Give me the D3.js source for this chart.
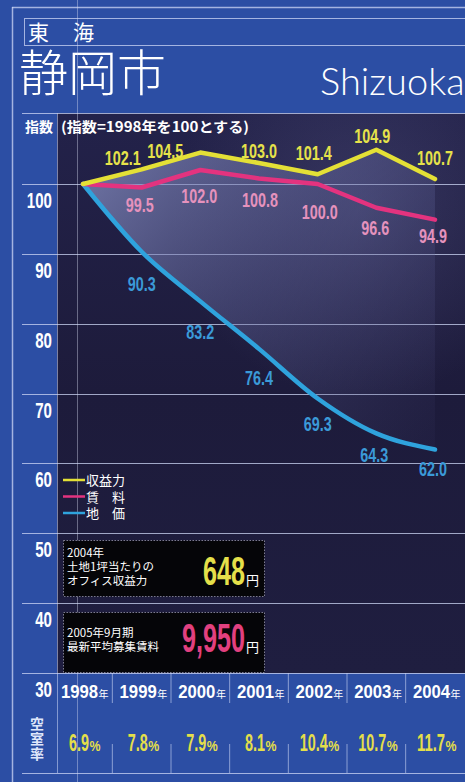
<!DOCTYPE html>
<html>
<head>
<meta charset="utf-8">
<script src="https://cdn.jsdelivr.net/npm/d3@7/dist/d3.min.js"></script>
<style>
  html, body { margin: 0; padding: 0; background: #2c4ea4; }
  svg { display: block; }
</style>
</head>
<body>
<svg id="chart" width="465" height="782"></svg>
<script>
// ---- data ----
const years = ["1998", "1999", "2000", "2001", "2002", "2003", "2004"];
const earning = [100, 102.1, 104.5, 103.0, 101.4, 104.9, 100.7]; // 収益力
const rent = [100, 99.5, 102.0, 100.8, 100.0, 96.6, 94.9];       // 賃料
const land = [100, 90.3, 83.2, 76.4, 69.3, 64.3, 62.0];          // 地価
const vacancy = [6.9, 7.8, 7.9, 8.1, 10.4, 10.7, 11.7];          // 空室率 (%)
const yTicks = [100, 90, 80, 70, 60, 50, 40, 30];
const legendNames = ["収益力", "賃　料", "地　価"];

// label placement (offset of each value label's centre from its point)
const earningOffsets = [null, [-19, -12], [-35, -2], [0, -13], [-4, -22], [-4, -14], [0, -22]];
const rentOffsets = [null, [-2, 17], [-1, 25], [1, 21], [2, 27], [-1, 20], [-2, 16]];
const landOffsets = [null, [0, 32], [0, 30], [0, 29], [0, 25], [-2, 21], [-2, 19]];

const W = 465, H = 782;
const BLUE_BG = "#2c4ea4";
const LINE_LIGHT = "rgba(205,215,245,0.75)";
const C_Y = "#e4e036", C_P = "#e3337f", C_B = "#2fa3dd";
const NARROW = "'Liberation Sans Narrow', 'Liberation Sans', 'DejaVu Sans Condensed', sans-serif";
const JP = "'Noto Sans CJK JP', 'Noto Sans', sans-serif";

const svg = d3.select("#chart");
const defs = svg.append("defs");

// scales
const x = d3.scalePoint().domain(years).range([83, 435]);
const y = d3.scaleLinear().domain([30, 100]).range([673, 184]);

// background
svg.append("rect").attr("width", W).attr("height", H).attr("fill", BLUE_BG);

// plot panel
const navyGrad = defs.append("linearGradient").attr("id", "navyGrad")
  .attr("x1", 0).attr("y1", 0).attr("x2", 0).attr("y2", 1);
navyGrad.append("stop").attr("offset", 0).attr("stop-color", "#23224a");
navyGrad.append("stop").attr("offset", 0.5).attr("stop-color", "#1d1b3b");
navyGrad.append("stop").attr("offset", 1).attr("stop-color", "#1f1e40");
svg.append("rect").attr("x", 57).attr("y", 113).attr("width", W - 57).attr("height", 673 - 113)
  .attr("fill", "url(#navyGrad)");

// soft glow in the upper part of the panel
const glow = defs.append("radialGradient").attr("id", "glow")
  .attr("gradientUnits", "userSpaceOnUse").attr("cx", 360).attr("cy", 210).attr("r", 190);
glow.append("stop").attr("offset", 0).attr("stop-color", "rgba(110,110,160,0.28)");
glow.append("stop").attr("offset", 1).attr("stop-color", "rgba(110,110,160,0)");
svg.append("rect").attr("x", 57).attr("y", 113).attr("width", W - 57).attr("height", 560)
  .attr("fill", "url(#glow)");

// frame lines
svg.append("line").attr("x1", 12.5).attr("x2", 12.5).attr("y1", 7).attr("y2", H)
  .attr("stroke", LINE_LIGHT).attr("stroke-width", 1.5);
svg.append("line").attr("x1", 12).attr("x2", W).attr("y1", 7.5).attr("y2", 7.5)
  .attr("stroke", LINE_LIGHT).attr("stroke-width", 1.5);

// header: region box, city name in Japanese and in Latin letters
svg.append("rect").attr("x", 24.5).attr("y", 18.5).attr("width", W).attr("height", 27)
  .attr("fill", "none").attr("stroke", LINE_LIGHT).attr("stroke-width", 1);
const head = svg.append("text").attr("font-family", JP).attr("fill", "#ffffff");
head.append("tspan").attr("x", 28).attr("y", 40).attr("font-size", 21).text("東");
head.append("tspan").attr("x", 73).attr("y", 40).attr("font-size", 21).text("海");
head.append("tspan").attr("x", 19).attr("y", 91).attr("font-size", 49).attr("font-weight", 300).text("静岡市");
svg.append("text").attr("x", 320).attr("y", 95).text("Shizuoka")
  .attr("font-family", "Lato, 'Open Sans', sans-serif").attr("font-weight", 300)
  .attr("font-size", 38).attr("fill", "#ffffff");

// top rule of the panel
svg.append("line").attr("x1", 22).attr("x2", W).attr("y1", 113.5).attr("y2", 113.5)
  .attr("stroke", LINE_LIGHT).attr("stroke-width", 1.2);

// faint vertical guide
svg.append("line").attr("x1", 77.5).attr("x2", 77.5).attr("y1", 0).attr("y2", H)
  .attr("stroke", "rgba(220,225,245,0.4)").attr("stroke-width", 1);

// left separator
svg.append("line").attr("x1", 57.5).attr("x2", 57.5).attr("y1", 113).attr("y2", 773)
  .attr("stroke", "rgba(205,215,245,0.55)").attr("stroke-width", 1);

// gridlines
svg.append("g").selectAll("line").data(yTicks).join("line")
  .attr("x1", 22).attr("x2", W)
  .attr("y1", d => Math.round(y(d)) + 0.5).attr("y2", d => Math.round(y(d)) + 0.5)
  .attr("stroke", LINE_LIGHT).attr("stroke-width", 1.2);

// condensed numerals: squeeze horizontally to a width of `dw` px per digit
function narrowText(g, tx, ty, str, size, dw, fill, anchor) {
  const t = g.append("text")
    .attr("text-anchor", anchor || "middle")
    .attr("font-family", NARROW).attr("font-weight", "bold")
    .attr("font-size", size).attr("fill", fill).text(str);
  const digits = (str.match(/[0-9%]/g) || []).length;
  const punct = str.length - digits;
  const target = digits * dw + punct * dw * 0.5;
  const natural = t.node().getComputedTextLength() || target;
  t.attr("transform", `translate(${tx},${ty}) scale(${target / natural},1)`);
  return target;
}

// y-axis labels
const axisG = svg.append("g");
yTicks.forEach(t => {
  narrowText(axisG, 52, y(t) + 24, String(t), 22, 8.4, "#ffffff", "end");
});
svg.append("text").attr("x", 25).attr("y", 132).text("指数")
  .attr("font-family", JP).attr("font-weight", "bold").attr("font-size", 14).attr("fill", "#ffffff");
svg.append("text").attr("x", 61).attr("y", 132).text("(指数=1998年を100とする)")
  .attr("font-family", JP).attr("font-weight", "bold").attr("font-size", 14)
  .attr("textLength", 188).attr("lengthAdjust", "spacingAndGlyphs").attr("fill", "#ffffff");

// shaded band between earning line and land line
const ptsE = years.map((yr, i) => [x(yr), y(earning[i])]);
const ptsR = years.map((yr, i) => [x(yr), y(rent[i])]);
const ptsL = years.map((yr, i) => [x(yr), y(land[i])]);
const straight = d3.line();
const smooth = d3.line().curve(d3.curveMonotoneX);

const bandGrad = defs.append("linearGradient").attr("id", "bandGrad")
  .attr("gradientUnits", "userSpaceOnUse")
  .attr("x1", 90).attr("y1", 170).attr("x2", 420).attr("y2", 460);
bandGrad.append("stop").attr("offset", 0).attr("stop-color", "rgba(140,148,200,0.7)");
bandGrad.append("stop").attr("offset", 0.45).attr("stop-color", "rgba(105,110,165,0.4)");
bandGrad.append("stop").attr("offset", 1).attr("stop-color", "rgba(70,70,120,0.08)");

const lowerRev = smooth(ptsL.slice().reverse()).replace(/^M/, "L");
svg.append("path").attr("d", straight(ptsE) + lowerRev + "Z").attr("fill", "url(#bandGrad)");

// series lines
svg.append("path").attr("d", smooth(ptsL)).attr("fill", "none")
  .attr("stroke", C_B).attr("stroke-width", 4.5).attr("stroke-linejoin", "round").attr("stroke-linecap", "round");
svg.append("path").attr("d", straight(ptsR)).attr("fill", "none")
  .attr("stroke", C_P).attr("stroke-width", 4.5).attr("stroke-linejoin", "round").attr("stroke-linecap", "round");
svg.append("path").attr("d", straight(ptsE)).attr("fill", "none")
  .attr("stroke", C_Y).attr("stroke-width", 4.5).attr("stroke-linejoin", "round").attr("stroke-linecap", "round");

// value labels
const labelG = svg.append("g");
function valueLabels(values, offsets, color) {
  values.forEach((v, i) => {
    const off = offsets[i];
    if (!off) return;
    const cx = x(years[i]) + off[0];
    const cy = y(v) + off[1];
    narrowText(labelG, cx, cy + 7.5, v.toFixed(1), 21, 8, color);
  });
}
valueLabels(earning, earningOffsets, "#e6e24a");
valueLabels(rent, rentOffsets, "#e592bd");
valueLabels(land, landOffsets, "#3b9ad8");

// legend
const legend = svg.append("g");
const legendText = legend.append("text")
  .attr("font-family", JP).attr("font-size", 13).attr("fill", "#ffffff");
[C_Y, C_P, C_B].forEach((c, i) => {
  const ly = 480 + i * 16.5;
  legend.append("line").attr("x1", 63).attr("x2", 85).attr("y1", ly).attr("y2", ly)
    .attr("stroke", c).attr("stroke-width", 2.5);
  legendText.append("tspan").attr("x", 86).attr("y", ly + 5).text(legendNames[i]);
});

// info boxes
function infoBox(top, h, lines, lineY, value, valueColor, valueRight, valueBase) {
  const g = svg.append("g");
  g.append("rect").attr("x", 63.5).attr("y", top + 0.5).attr("width", 201).attr("height", h)
    .attr("fill", "#050508").attr("stroke", "rgba(170,170,190,0.7)").attr("stroke-dasharray", "1.5,1.5");
  const txt = g.append("text").attr("font-family", JP).attr("font-size", 11.5).attr("fill", "#ffffff");
  lines.forEach((t, i) => {
    txt.append("tspan").attr("x", 67).attr("y", lineY[i]).text(t);
  });
  narrowText(g, valueRight, valueBase, value, 41, 14, valueColor, "end");
  g.append("text").attr("x", valueRight + 1).attr("y", valueBase).text("円")
    .attr("font-family", JP).attr("font-size", 13).attr("fill", "#ffffff");
}
infoBox(540, 56, ["2004年", "土地1坪当たりの", "オフィス収益力"], [557, 571, 585],
  "648", "#e5e04a", 245, 585);
infoBox(612, 60, ["2005年9月期", "最新平均募集賃料"], [637, 651],
  "9,950", "#e2407f", 245, 652);

// bottom table
const table = svg.append("g");
table.append("line").attr("x1", 22).attr("x2", W).attr("y1", 773.5).attr("y2", 773.5)
  .attr("stroke", LINE_LIGHT).attr("stroke-width", 1.2);
const seps = years.slice(1).map((yr, i) => (x(years[i]) + x(yr)) / 2);
seps.forEach(sx => {
  table.append("line").attr("x1", sx).attr("x2", sx).attr("y1", 673).attr("y2", 703)
    .attr("stroke", "rgba(205,215,245,0.6)").attr("stroke-width", 1);
  table.append("line").attr("x1", sx).attr("x2", sx).attr("y1", 744).attr("y2", 773)
    .attr("stroke", "rgba(205,215,245,0.6)").attr("stroke-width", 1);
});
years.forEach((yr, i) => {
  const cx = x(yr) + 1.5;
  // year: numerals + small 年
  const yw = 4 * 9.3, sw = 10;
  narrowText(table, cx - (yw + sw) / 2, 698, yr, 18.5, 9.3, "#ffffff", "start");
  table.append("text").attr("x", cx - (yw + sw) / 2 + yw + 0.5).attr("y", 698).text("年")
    .attr("font-family", JP).attr("font-size", 10).attr("fill", "#ffffff");

  // vacancy rate: numerals + small %
  const str = vacancy[i].toFixed(1);
  const vw = (str.length - 1) * 8 + 4, pw = 11;
  const left = cx - (vw + pw) / 2;
  narrowText(table, left, 750.5, str, 23, 8, "#e4df4a", "start");
  narrowText(table, left + vw + 0.5, 750.5, "%", 15, 11, "#e4df4a", "start");
});
svg.append("text").attr("x", 37).attr("y", 717).text("空室率")
  .attr("writing-mode", "vertical-rl").attr("letter-spacing", 1)
  .attr("font-family", JP).attr("font-weight", "bold")
  .attr("font-size", 14).attr("fill", "#dfe6fa");
</script>
</body>
</html>
